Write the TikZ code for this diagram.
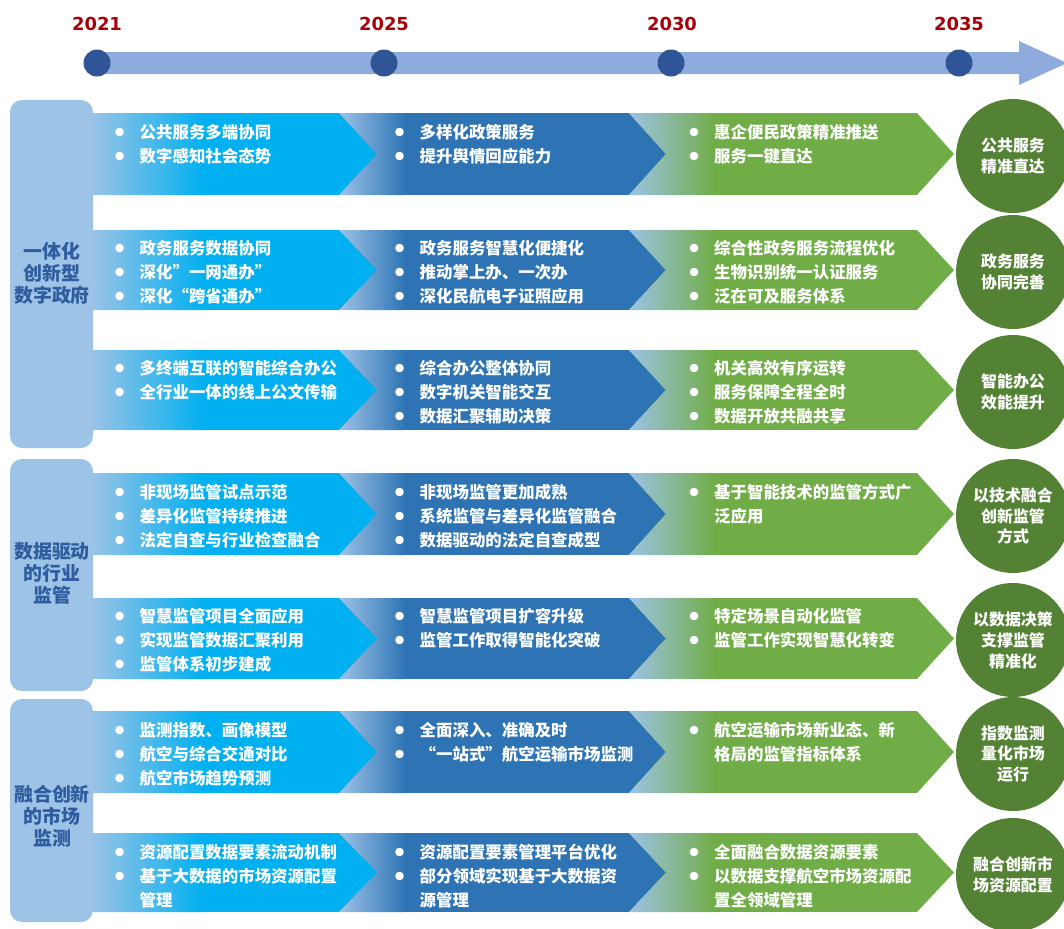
\documentclass[tikz,border=0pt]{standalone}
\usepackage{fontspec}
\setmainfont{Noto Sans CJK SC}
\newfontfamily\yearfont{DejaVu Sans}
\definecolor{boxblue}{HTML}{9DC3E6}
\definecolor{cyanc}{HTML}{00B0F0}
\definecolor{darkb}{HTML}{2E74B5}
\definecolor{greenc}{HTML}{70AD47}
\definecolor{goalgreen}{HTML}{548235}
\definecolor{barblue}{HTML}{8FAADC}
\definecolor{dotblue}{HTML}{2F5597}
\definecolor{yearred}{HTML}{A60008}
\definecolor{labelblue}{HTML}{2E5C9E}
\newcommand{\chevband}[2]{%
  \pgfmathsetmacro{\mm}{(#1+#2)/2}%
  \begin{scope}
    \clip (90,#1) -- (339,#1) -- (377,\mm) -- (339,#2) -- (90,#2) -- cycle;
    \fill[cyanc] (90,#1) rectangle (380,#2);
    \shade[left color=boxblue, right color=cyanc] (90,#1) rectangle (205,#2);
  \end{scope}
  \begin{scope}
    \clip (339,#1) -- (629,#1) -- (666,\mm) -- (629,#2) -- (339,#2) -- (377,\mm) -- cycle;
    \fill[darkb] (339,#1) rectangle (670,#2);
    \shade[left color=boxblue, right color=darkb] (339,#1) rectangle (405,#2);
  \end{scope}
  \begin{scope}
    \clip (629,#1) -- (917,#1) -- (954,\mm) -- (917,#2) -- (629,#2) -- (666,\mm) -- cycle;
    \fill[greenc] (629,#1) rectangle (956,#2);
    \shade[left color=boxblue, right color=greenc] (629,#1) rectangle (715,#2);
  \end{scope}}
\newcommand{\itm}[4]{\fill[white] (#2,#3) circle[radius=4.3bp];
  \node[itemtxt] (#1) at (#2+20,#3+6) {#4};}
\newcommand{\itc}[4]{\node[itemtxt] (#1) at (#2+20,#3+6) {#4};}
\begin{document}
\begin{tikzpicture}[x=1bp,y=-1bp,
  itemtxt/.style={anchor=base west, inner sep=0pt, text=white, font=\bfseries\fontsize{16.5}{20}\selectfont},
  goal/.style={circle, fill=goalgreen, minimum size=114bp, inner sep=0pt, text=white, align=center, font=\bfseries\fontsize{16}{21}\selectfont},
  grplab/.style={inner sep=0pt, text=labelblue, align=center, font=\bfseries\fontsize{19}{22}\selectfont},
  yearlab/.style={inner sep=0pt, text=yearred, font=\yearfont\bfseries\fontsize{18}{20}\selectfont},
  tdot/.style={circle, fill=dotblue, minimum size=27bp, inner sep=0pt}]
\useasboundingbox (0,0) rectangle (1064,929);
\clip (0,0) rectangle (1064,929);
% timeline
\fill[barblue] (97,52) -- (1019,52) -- (1019,41) -- (1067,63) -- (1019,85) -- (1019,74) -- (97,74) -- cycle;
\node[tdot] (d1) at (97,63) {};
\node[tdot] (d2) at (384,63) {};
\node[tdot] (d3) at (671,63) {};
\node[tdot] (d4) at (959,63) {};
\node[yearlab] (y1) at (97,24) {2021};
\node[yearlab] (y2) at (384,24) {2025};
\node[yearlab] (y3) at (672,24) {2030};
\node[yearlab] (y4) at (959,24) {2035};
% group boxes
\fill[boxblue, rounded corners=12bp] (10,100) rectangle (93,448);
\fill[boxblue, rounded corners=12bp] (10,459) rectangle (93,691);
\fill[boxblue, rounded corners=12bp] (10,699) rectangle (93,922);
\node[grplab] (L1) at (52,273) {一体化\\创新型\\数字政府};
\node[grplab] (L2) at (52,573) {数据驱动\\的行业\\监管};
\node[grplab] (L3) at (52,816) {融合创新\\的市场\\监测};
% bands
\chevband{113}{195}
\chevband{230}{310}
\chevband{350}{430}
\chevband{473}{555}
\chevband{598}{679}
\chevband{711}{793}
\chevband{833}{912}
% G1R1
\itm{a11}{119.5}{132}{公共服务多端协同}
\itm{a12}{119.5}{156}{数字感知社会态势}
\itm{a21}{399.5}{132}{多样化政策服务}
\itm{a22}{399.5}{156}{提升舆情回应能力}
\itm{a31}{694}{132}{惠企便民政策精准推送}
\itm{a32}{694}{156}{服务一键直达}
\node[goal] (g1) at (1013,156) {公共服务\\精准直达};
% G1R2
\itm{b11}{119.5}{248}{政务服务数据协同}
\itm{b12}{119.5}{272}{深化”一网通办”}
\itm{b13}{119.5}{296}{深化“跨省通办”}
\itm{b21}{399.5}{248}{政务服务智慧化便捷化}
\itm{b22}{399.5}{272}{推动掌上办、一次办}
\itm{b23}{399.5}{296}{深化民航电子证照应用}
\itm{b31}{694}{248}{综合性政务服务流程优化}
\itm{b32}{694}{272}{生物识别统一认证服务}
\itm{b33}{694}{296}{泛在可及服务体系}
\node[goal] (g2) at (1013,272) {政务服务\\协同完善};
% G1R3
\itm{c11}{119.5}{368}{多终端互联的智能综合办公}
\itm{c12}{119.5}{392}{全行业一体的线上公文传输}
\itm{c21}{399.5}{368}{综合办公整体协同}
\itm{c22}{399.5}{392}{数字机关智能交互}
\itm{c23}{399.5}{416}{数据汇聚辅助决策}
\itm{c31}{694}{368}{机关高效有序运转}
\itm{c32}{694}{392}{服务保障全程全时}
\itm{c33}{694}{416}{数据开放共融共享}
\node[goal] (g3) at (1013,392) {智能办公\\效能提升};
% G2R1
\itm{d11}{119.5}{492}{非现场监管试点示范}
\itm{d12}{119.5}{516}{差异化监管持续推进}
\itm{d13}{119.5}{540}{法定自查与行业检查融合}
\itm{d21}{399.5}{492}{非现场监管更加成熟}
\itm{d22}{399.5}{516}{系统监管与差异化监管融合}
\itm{d23}{399.5}{540}{数据驱动的法定自查成型}
\itm{d31}{694}{492}{基于智能技术的监管方式广}
\itc{d32}{694}{516}{泛应用}
\node[goal] (g4) at (1013,516) {以技术融合\\创新监管\\方式};
% G2R2
\itm{e11}{119.5}{616}{智慧监管项目全面应用}
\itm{e12}{119.5}{640}{实现监管数据汇聚利用}
\itm{e13}{119.5}{664}{监管体系初步建成}
\itm{e21}{399.5}{616}{智慧监管项目扩容升级}
\itm{e22}{399.5}{640}{监管工作取得智能化突破}
\itm{e31}{694}{616}{特定场景自动化监管}
\itm{e32}{694}{640}{监管工作实现智慧化转变}
\node[goal] (g5) at (1013,640) {以数据决策\\支撑监管\\精准化};
% G3R1
\itm{f11}{119.5}{730}{监测指数、画像模型}
\itm{f12}{119.5}{754}{航空与综合交通对比}
\itm{f13}{119.5}{778}{航空市场趋势预测}
\itm{f21}{399.5}{730}{全面深入、准确及时}
\itm{f22}{399.5}{754}{“一站式”航空运输市场监测}
\itm{f31}{694}{730}{航空运输市场新业态、新}
\itc{f32}{694}{754}{格局的监管指标体系}
\node[goal] (g6) at (1013,754) {指数监测\\量化市场\\运行};
% G3R2
\itm{h11}{119.5}{852}{资源配置数据要素流动机制}
\itm{h12}{119.5}{876}{基于大数据的市场资源配置}
\itc{h13}{119.5}{900}{管理}
\itm{h21}{399.5}{852}{资源配置要素管理平台优化}
\itm{h22}{399.5}{876}{部分领域实现基于大数据资}
\itc{h23}{399.5}{900}{源管理}
\itm{h31}{694}{852}{全面融合数据资源要素}
\itm{h32}{694}{876}{以数据支撑航空市场资源配}
\itc{h33}{694}{900}{置全领域管理}
\node[goal] (g7) at (1013,875) {融合创新市\\场资源配置};
\end{tikzpicture}
\end{document}
